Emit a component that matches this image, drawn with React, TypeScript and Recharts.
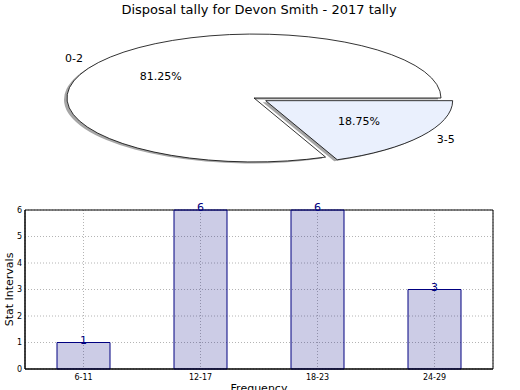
import React from "react";
import { PieChart, Pie, BarChart, Bar, XAxis, YAxis, CartesianGrid, LabelList, ReferenceArea } from "recharts";

const chartTitle = "Disposal tally for Devon Smith - 2017 tally";

// pie: intervals and how many fell in each
const sliceNames = ["0-2", "3-5"];
const sliceCounts = [13, 3];
const sliceColors = ["#ffffff", "#eaf0fd"];
const explodedSlice = "3-5";

// bars
const barCategories = ["6-11", "12-17", "18-23", "24-29"];
const barCounts = [1, 6, 6, 3];
const yTicks = [0, 1, 2, 3, 4, 5, 6];

const FONT = "'DejaVu Sans', Verdana, sans-serif";
const ASPECT = 0.342; // squashed pie, vertical / horizontal radius
const EXPLODE = 0.075;
const RAD = Math.PI / 180;

const pieData = sliceNames.map((name, i) => ({ name, value: sliceCounts[i], fill: sliceColors[i] }));
const barData = barCategories.map((cat, i) => ({ cat, count: barCounts[i] }));

const explodeOffset = (name: string, mid: number, r: number) => {
  if (name !== explodedSlice) return [0, 0];
  return [EXPLODE * r * Math.cos(mid * RAD), -EXPLODE * r * ASPECT * Math.sin(mid * RAD)];
};

const wedgePath = (cx: number, cy: number, rx: number, ry: number, start: number, end: number) => {
  const pt = (a: number) => [cx + rx * Math.cos(a * RAD), cy - ry * Math.sin(a * RAD)];
  const [x0, y0] = pt(start);
  const [x1, y1] = pt(end);
  const large = Math.abs(end - start) > 180 ? 1 : 0;
  const sweep = end > start ? 0 : 1;
  return `M${cx},${cy} L${x0},${y0} A${rx},${ry} 0 ${large} ${sweep} ${x1},${y1} Z`;
};

const sliceName = (p: any) => (p.payload && p.payload.name) || p.name;
const midOf = (p: any) => (p.midAngle != null ? p.midAngle : (p.startAngle + p.endAngle) / 2);

const Wedge = (props: any) => {
  const { cx, cy, outerRadius, startAngle, endAngle, fill } = props;
  const [dx, dy] = explodeOffset(sliceName(props), midOf(props), outerRadius);
  return (
    <path
      d={wedgePath(cx + dx, cy + dy, outerRadius, outerRadius * ASPECT, startAngle, endAngle)}
      fill={fill}
      stroke="#000"
      strokeWidth={0.8}
    />
  );
};

const WedgeShadow = (props: any) => {
  const { cx, cy, outerRadius, startAngle, endAngle } = props;
  const [dx, dy] = explodeOffset(sliceName(props), midOf(props), outerRadius);
  return (
    <path
      d={wedgePath(cx + dx - 3, cy + dy + 1.5, outerRadius, outerRadius * ASPECT, startAngle, endAngle)}
      fill="#4d4d4d"
      fillOpacity={0.5}
      stroke="none"
    />
  );
};

const renderPieLabel = (props: any) => {
  const { cx, cy, outerRadius, percent } = props;
  const name = sliceName(props);
  const mid = midOf(props);
  const [dx, dy] = explodeOffset(name, mid, outerRadius);
  const c = Math.cos(mid * RAD);
  const s = Math.sin(mid * RAD);
  const ry = outerRadius * ASPECT;
  const ox = cx + dx;
  const oy = cy + dy;
  const txt = { fontSize: 11, fontFamily: FONT, fill: "#000" };
  return (
    <g>
      <text x={ox + 1.1 * outerRadius * c} y={oy - 1.1 * ry * s} textAnchor={c < 0 ? "end" : "start"} dominantBaseline="central" {...txt}>
        {name}
      </text>
      <text x={ox + 0.6 * outerRadius * c} y={oy - 0.6 * ry * s} textAnchor="middle" dominantBaseline="central" {...txt}>
        {(percent * 100).toFixed(2)}%
      </text>
    </g>
  );
};

const yAxisLabel = (props: any) => {
  const vb = props.viewBox || {};
  const x = (vb.x ?? 0) + 9.5;
  const y = (vb.y ?? 210) + (vb.height ?? 159) / 2;
  return (
    <text x={x} y={y} transform={`rotate(-90 ${x} ${y})`} textAnchor="middle" dominantBaseline="central" fontSize={11} fontFamily={FONT} fill="#000">
      Stat Intervals
    </text>
  );
};

const xAxisLabel = (props: any) => {
  const vb = props.viewBox || {};
  const x = (vb.x ?? 25) + (vb.width ?? 468) / 2;
  const y = (vb.y ?? 174) + 23;
  return (
    <text x={x} y={y} textAnchor="middle" fontSize={11} fontFamily={FONT} fill="#000">
      Frequency
    </text>
  );
};

const tickStyle = { fontSize: 8, fill: "#000", fontFamily: FONT };

export default function App() {
  return (
    <div style={{ position: "absolute", left: 0, top: 0, width: 520, height: 390, overflow: "hidden", background: "#fff", fontFamily: FONT }}>
      <div style={{ position: "absolute", left: 0, top: 0, width: 518, textAlign: "center", fontSize: 13, lineHeight: "20px", color: "#000" }}>
        {chartTitle}
      </div>
      <div style={{ position: "absolute", left: 0, top: 0 }}>
        <PieChart width={520} height={195} margin={{ top: 0, right: 0, bottom: 0, left: 0 }}>
          <Pie
            data={pieData}
            dataKey="value"
            nameKey="name"
            cx={254}
            cy={98}
            outerRadius={187}
            startAngle={0}
            endAngle={360}
            shape={WedgeShadow}
            inactiveShape={WedgeShadow}
            activeShape={WedgeShadow}
            label={false}
            labelLine={false}
            isAnimationActive={false}
          />
          <Pie
            data={pieData}
            dataKey="value"
            nameKey="name"
            cx={254}
            cy={98}
            outerRadius={187}
            startAngle={0}
            endAngle={360}
            shape={Wedge}
            inactiveShape={Wedge}
            activeShape={Wedge}
            label={renderPieLabel}
            labelLine={false}
            isAnimationActive={false}
          />
        </PieChart>
      </div>
      <div style={{ position: "absolute", left: 0, top: 195 }}>
        <BarChart width={520} height={195} data={barData} margin={{ top: 15, right: 27, bottom: 0, left: 0 }} barSize={53}>
          <CartesianGrid stroke="#b4b4b4" strokeDasharray="1 2" />
          <XAxis
            dataKey="cat"
            height={21}
            tickSize={0}
            tickMargin={5}
            tick={tickStyle}
            axisLine={{ stroke: "#000" }}
            label={xAxisLabel}
          />
          <YAxis
            width={25}
            domain={[0, 6]}
            ticks={yTicks}
            tickSize={0}
            tickMargin={3}
            tick={tickStyle}
            axisLine={{ stroke: "#000" }}
            label={yAxisLabel}
          />
          <Bar dataKey="count" fill="#000080" fillOpacity={0.2} stroke="#000080" strokeWidth={1} isAnimationActive={false}>
            <LabelList dataKey="count" position="top" offset={-1} fill="#000080" fontSize={11} fontFamily={FONT} />
          </Bar>
          <ReferenceArea y1={0} y2={6} fill="none" fillOpacity={0} stroke="#000" strokeWidth={1} strokeOpacity={1} />
        </BarChart>
      </div>
    </div>
  );
}
